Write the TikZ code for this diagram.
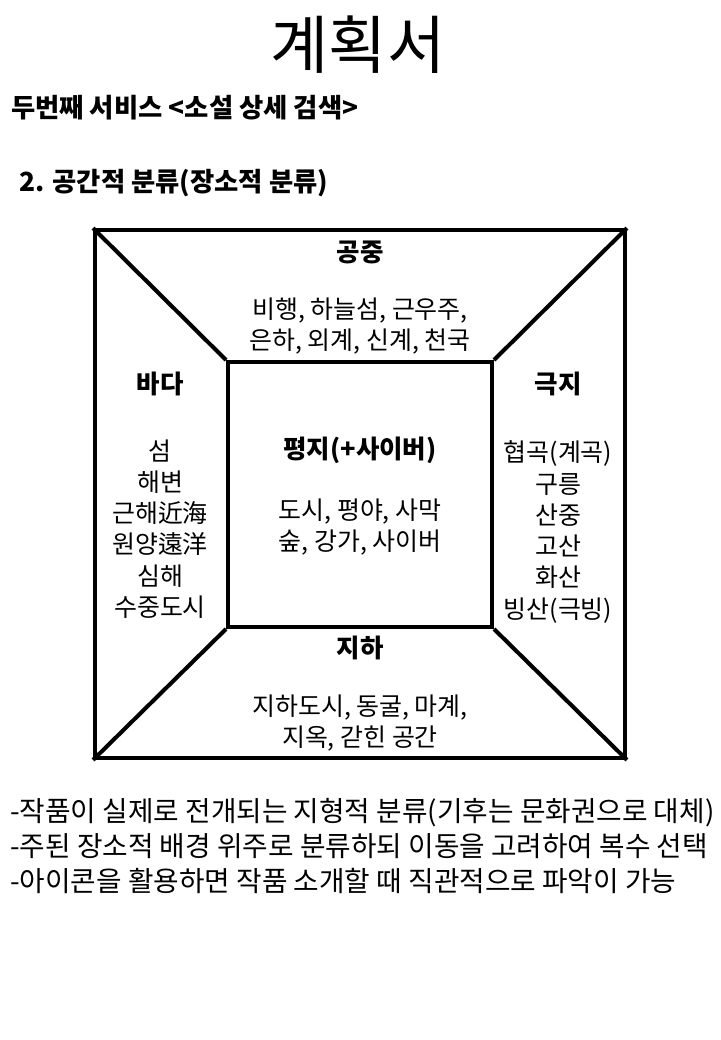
\documentclass[tikz,border=0pt]{standalone}
\usepackage{fontspec}
\setmainfont{Noto Sans CJK KR}
\usetikzlibrary{positioning, calc}
\tikzset{
    frame/.style={rectangle, draw, line width=2.3pt, inner sep=0pt},
    edge/.style={draw, line width=2.3pt},
    titletext/.style={font=\fontsize{36}{40}\selectfont},
    heading/.style={anchor=west, font=\bfseries\fontsize{15}{18}\selectfont},
    zone/.style={font=\bfseries\fontsize{14.5}{17}\selectfont},
    places/.style={align=center, font=\fontsize{14.2}{17.8}\selectfont},
    note/.style={anchor=west, align=left, font=\fontsize{15.8}{20.1}\selectfont}
}
\begin{document}
\begin{tikzpicture}[x=0.02cm, y=-0.02cm]
    \useasboundingbox (0,0) rectangle (720,1040);
    % headings
    \node (title) [titletext] at (358,45) {계획서};
    \node (service) [heading] at (5,108) {두번째 서비스 <소설 상세 검색>};
    \node (section) [heading] at (13,183) {2. 공간적 분류(장소적 분류)};

    % frames
    \node (outer) [frame, minimum width=10.6cm, minimum height=10.56cm] at (360,494) {};
    \node (inner) [frame, minimum width=5.28cm, minimum height=5.3cm] at (360,494.5) {};
    \draw [edge] (outer.north west) -- (inner.north west);
    \draw [edge] (outer.north east) -- (inner.north east);
    \draw [edge] (outer.south west) -- (inner.south west);
    \draw [edge] (outer.south east) -- (inner.south east);

    % zones
    \node (air) [zone] at (360,252) {공중};
    \node (airlist) [places] at (360,326) {비행, 하늘섬, 근우주,\\은하, 외계, 신계, 천국};
    \node (sea) [zone] at (160,384) {바다};
    \node (sealist) [places] at (160,529) {섬\\해변\\근해近海\\원양遠洋\\심해\\수중도시};
    \node (polar) [zone] at (558,384) {극지};
    \node (polarlist) [places] at (558,532) {협곡(계곡)\\구릉\\산중\\고산\\화산\\빙산(극빙)};
    \node (plain) [zone] at (360,450) {평지(+사이버)};
    \node (plainlist) [places] at (360,527) {도시, 평야, 사막\\숲, 강가, 사이버};
    \node (under) [zone] at (360,648) {지하};
    \node (underlist) [places] at (360,723) {지하도시, 동굴, 마계,\\지옥, 갇힌 공간};

    % notes
    \node (notes) [note] at (4,846) {-작품이 실제로 전개되는 지형적 분류(기후는 문화권으로 대체)\\-주된 장소적 배경 위주로 분류하되 이동을 고려하여 복수 선택\\-아이콘을 활용하면 작품 소개할 때 직관적으로 파악이 가능};
\end{tikzpicture}
\end{document}
